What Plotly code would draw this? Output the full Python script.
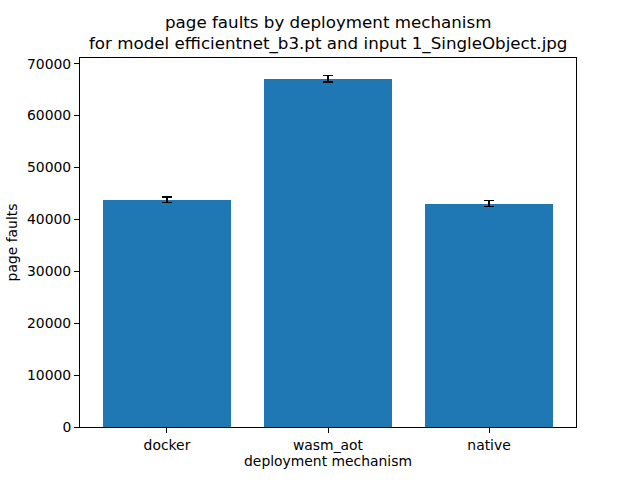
import plotly.graph_objects as go

categories = ["docker", "wasm_aot", "native"]
page_faults = [43800, 67100, 43050]
errors = [550, 600, 550]
y_ticks = [0, 10000, 20000, 30000, 40000, 50000, 60000, 70000]
title_lines = ["page faults by deployment mechanism",
               "for model efficientnet_b3.pt and input 1_SingleObject.jpg"]

fig = go.Figure()
fig.add_trace(go.Bar(
    x=list(range(len(categories))),
    y=page_faults,
    width=0.8,
    marker=dict(color="#1f77b4", line=dict(width=0)),
    error_y=dict(type="data", array=errors, visible=True, color="black", thickness=1.5, width=5),
))

font = "DejaVu Sans, sans-serif"
for line, shift in zip(title_lines, [24, 2]):
    fig.add_annotation(text=line, x=0.5, xref="paper", xanchor="center",
                       y=1, yref="paper", yanchor="bottom", yshift=shift,
                       showarrow=False, font=dict(family=font, size=16.7, color="black"))

fig.update_layout(
    width=640, height=480,
    margin=dict(l=80, r=64, t=58, b=53, autoexpand=False),
    paper_bgcolor="white", plot_bgcolor="white",
    font=dict(family=font, size=13.9, color="black"),
    showlegend=False,
    bargap=0,
    xaxis=dict(
        range=[-0.54, 2.54], automargin=False,
        tickmode="array", tickvals=list(range(len(categories))), ticktext=categories,
        showline=True, linecolor="black", linewidth=1, mirror=True,
        ticks="outside", ticklen=5, tickcolor="black",
        showgrid=False, zeroline=False,
        title=dict(text="deployment mechanism", standoff=4, font=dict(size=13.9)),
        tickfont=dict(size=13.9),
    ),
    yaxis=dict(
        range=[0, 71100], automargin=False,
        tickmode="array", tickvals=y_ticks, ticktext=[str(v) for v in y_ticks],
        showline=True, linecolor="black", linewidth=1, mirror=True,
        ticks="outside", ticklen=5, tickcolor="black",
        showgrid=False, zeroline=False,
        title=dict(text="page faults", standoff=6, font=dict(size=13.9)),
        tickfont=dict(size=13.9),
    ),
)

fig.write_html("out.html", config={"displayModeBar": False},
               post_script="document.body.style.margin='0';")
